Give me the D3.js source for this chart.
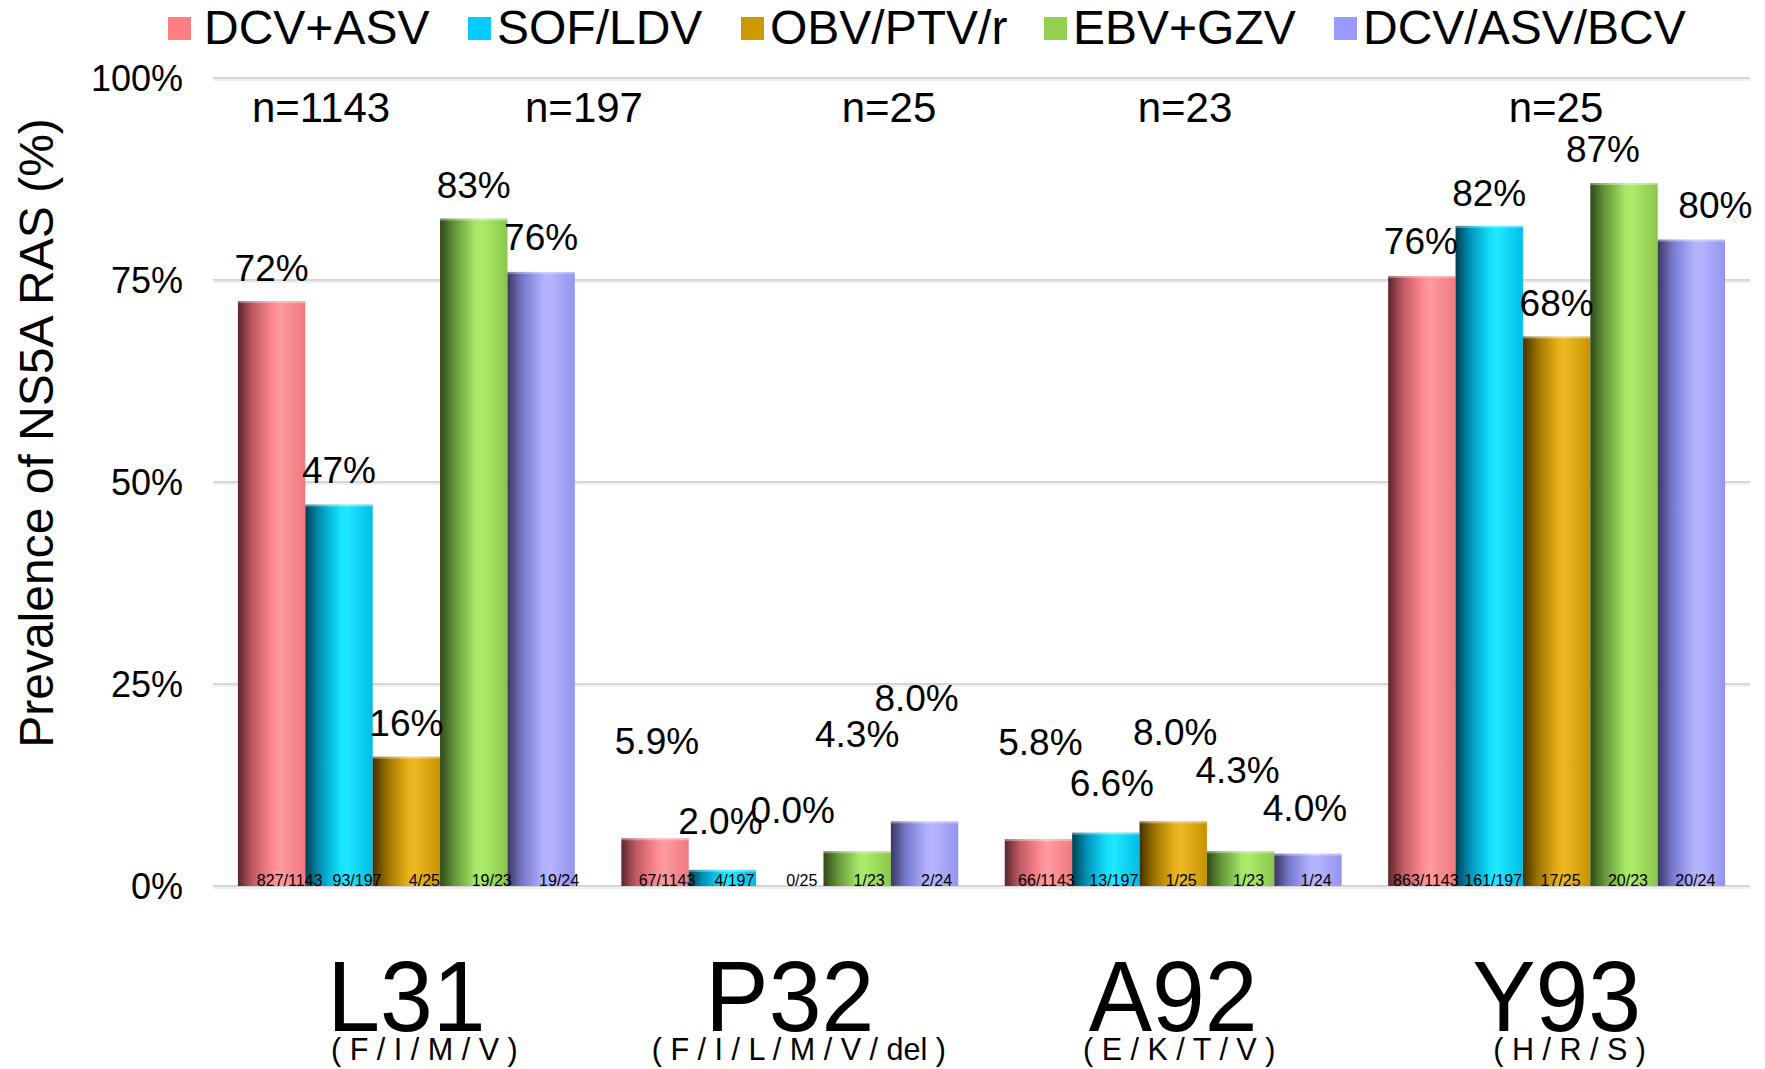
<!DOCTYPE html>
<html>
<head>
<meta charset="utf-8">
<script src="https://cdn.jsdelivr.net/npm/d3@7"></script>
<style>
  html, body { margin: 0; padding: 0; background: #ffffff; }
  svg { display: block; }
  text { font-family: "Liberation Sans", Arial, Helvetica, sans-serif; fill: #000; }
</style>
</head>
<body>
<svg id="chart" width="1765" height="1069"></svg>
<script>
// ---------------- DATA ----------------
const categories = ["L31", "P32", "A92", "Y93"];
const variants = ["( F / I / M / V )", "( F / I / L / M / V / del )", "( E / K / T / V )", "( H / R / S )"];
const seriesNames = ["DCV+ASV", "SOF/LDV", "OBV/PTV/r", "EBV+GZV", "DCV/ASV/BCV"];

const dcvAsv    = [72.4, 5.9, 5.8, 75.5];
const sofLdv    = [47.2, 2.0, 6.6, 81.7];
const obvPtvR   = [16.0, 0.0, 8.0, 68.0];
const ebvGzv    = [82.6, 4.3, 4.3, 87.0];
const dcvAsvBcv = [76.0, 8.0, 4.0, 80.0];

const dcvAsvLabels    = ["72%", "5.9%", "5.8%", "76%"];
const sofLdvLabels    = ["47%", "2.0%", "6.6%", "82%"];
const obvPtvRLabels   = ["16%", "0.0%", "8.0%", "68%"];
const ebvGzvLabels    = ["83%", "4.3%", "4.3%", "87%"];
const dcvAsvBcvLabels = ["76%", "8.0%", "4.0%", "80%"];

const dcvAsvFrac    = ["827/1143", "67/1143", "66/1143", "863/1143"];
const sofLdvFrac    = ["93/197", "4/197", "13/197", "161/197"];
const obvPtvRFrac   = ["4/25", "0/25", "1/25", "17/25"];
const ebvGzvFrac    = ["19/23", "1/23", "1/23", "20/23"];
const dcvAsvBcvFrac = ["19/24", "2/24", "1/24", "20/24"];

const sampleSizes = ["n=1143", "n=197", "n=25", "n=23", "n=25"];
const yTicks = [0, 25, 50, 75, 100];
const yTitle = "Prevalence of NS5A RAS (%)";

// ---------------- LAYOUT / STYLE ----------------
const W = 1765, H = 1069;
const yTop = 78, yBottom = 886;
const gridX0 = 213, gridX1 = 1750;
const colors = ["#FF7F80", "#00CCFF", "#CC9900", "#92D050", "#9999FF"];
const gradStops = [
  ["#5a262c", "#c05a64", "#ff8a90", "#ff9ca0", "#ef7a80"],
  ["#003f52", "#0094bb", "#14e2ff", "#20e8ff", "#00bde9"],
  ["#463000", "#9c7400", "#e8b018", "#ecb824", "#c69200"],
  ["#30491a", "#66983a", "#a6e766", "#aaec6a", "#8bc64b"],
  ["#38385e", "#7777cc", "#afafff", "#b6b6ff", "#9494ee"]
];
const legendSqX = [168, 468, 741, 1044, 1334];
const legendSq = 23;
const legendTextX = [204, 497, 770, 1073, 1363];
const nLabelX = [321, 584, 889, 1185, 1556];
const fracDx = [18, 12, 8, 4];
const variantDx = [18, 9, 6, 13];
const labelDx = [
  [0, 2, 2, -1],
  [0, -2, 6, 0],
  [0, 3, 2, 0],
  [0, 0, -3, -21],
  [0, -8, -3, 24]
];
const labelDy = [
  [-20, -84, -84, -22],
  [-22, -36, -37, -20],
  [-21, -63, -76, -21],
  [-21, -104, -68, -21],
  [-22, -110, -33, -22]
];

const values = [dcvAsv, sofLdv, obvPtvR, ebvGzv, dcvAsvBcv];
const valueLabels = [dcvAsvLabels, sofLdvLabels, obvPtvRLabels, ebvGzvLabels, dcvAsvBcvLabels];
const fractions = [dcvAsvFrac, sofLdvFrac, obvPtvRFrac, ebvGzvFrac, dcvAsvBcvFrac];

const bars = [];
seriesNames.forEach((s, si) => {
  categories.forEach((c, ci) => {
    bars.push({ series: s, si, cat: c, ci, value: values[si][ci],
                label: valueLabels[si][ci], frac: fractions[si][ci] });
  });
});

// ---------------- SCALES ----------------
const svg = d3.select("#chart");
svg.append("rect").attr("width", W).attr("height", H).attr("fill", "#fff");

const y = d3.scaleLinear().domain([0, 100]).range([yBottom, yTop]);
const x0 = d3.scaleBand().domain(categories).range([gridX0, gridX1])
  .paddingInner(0.1213).paddingOuter(0.065);
const x1 = d3.scaleBand().domain(seriesNames).range([0, x0.bandwidth()]).padding(0);

// gradients
const defs = svg.append("defs");
seriesNames.forEach((s, i) => {
  const g = defs.append("linearGradient").attr("id", "g" + i)
    .attr("x1", "0%").attr("x2", "100%").attr("y1", "0%").attr("y2", "0%");
  const offs = [0, 0.22, 0.52, 0.62, 1];
  offs.forEach((o, k) => g.append("stop").attr("offset", o).attr("stop-color", gradStops[i][k]));
});

// ---------------- GRID ----------------
const grid = svg.append("g");
grid.selectAll("line.shadow").data(yTicks).join("line")
  .attr("class", "shadow")
  .attr("x1", gridX0).attr("x2", gridX1)
  .attr("y1", d => y(d) + 2).attr("y2", d => y(d) + 2)
  .attr("stroke", "#efefef").attr("stroke-width", 2);
grid.selectAll("line.main").data(yTicks).join("line")
  .attr("class", "main")
  .attr("x1", gridX0).attr("x2", gridX1)
  .attr("y1", d => y(d)).attr("y2", d => y(d))
  .attr("stroke", "#d6d6d6").attr("stroke-width", 2);

// y axis labels via d3.axisLeft
const yAxis = d3.axisLeft(y).tickValues(yTicks).tickFormat(d => d + "%").tickSize(0).tickPadding(0);
const yg = svg.append("g").attr("transform", "translate(183,0)").call(yAxis);
yg.select(".domain").remove();
yg.selectAll("text").attr("font-size", 36).attr("dy", "0.35em")
  .attr("font-family", "'Liberation Sans', Arial, sans-serif").attr("fill", "#000");

// y title
svg.append("text")
  .attr("transform", "translate(53,433) rotate(-90)")
  .attr("text-anchor", "middle")
  .attr("font-size", 48)
  .text(yTitle);

// ---------------- BARS ----------------
const bg = svg.append("g");
bg.selectAll("rect.bar").data(bars).join("rect")
  .attr("class", "bar")
  .attr("x", d => x0(d.cat) + x1(d.series))
  .attr("y", d => y(d.value))
  .attr("width", x1.bandwidth())
  .attr("height", d => yBottom - y(d.value))
  .attr("fill", d => "url(#g" + d.si + ")");
bg.selectAll("rect.hl").data(bars.filter(d => d.value > 0)).join("rect")
  .attr("class", "hl")
  .attr("x", d => x0(d.cat) + x1(d.series))
  .attr("y", d => y(d.value))
  .attr("width", x1.bandwidth())
  .attr("height", 2)
  .attr("fill", "#ffffff").attr("opacity", 0.35);

// value labels
svg.append("g").selectAll("text").data(bars).join("text")
  .attr("x", d => x0(d.cat) + x1(d.series) + x1.bandwidth() / 2 + labelDx[d.si][d.ci])
  .attr("y", d => y(d.value) + labelDy[d.si][d.ci])
  .attr("text-anchor", "middle")
  .attr("font-size", 37)
  .text(d => d.label);

// fraction labels
svg.append("g").selectAll("text").data(bars).join("text")
  .attr("x", d => x0(d.cat) + x1(d.series) + x1.bandwidth() / 2 + fracDx[d.ci])
  .attr("y", yBottom - 0.5)
  .attr("text-anchor", "middle")
  .attr("font-size", 16)
  .text(d => d.frac);

// ---------------- CATEGORY LABELS ----------------
svg.append("g").selectAll("text").data(categories).join("text")
  .attr("transform", d => "translate(" + (x0(d) + x0.bandwidth() / 2) + ",1031) scale(0.94,1)")
  .attr("text-anchor", "middle")
  .attr("font-size", 101)
  .text(d => d);

svg.append("g").selectAll("text").data(variants).join("text")
  .attr("transform", (d, i) => "translate(" + (x0(categories[i]) + x0.bandwidth() / 2 + variantDx[i]) + ",1060) scale(0.955,1)")
  .attr("text-anchor", "middle")
  .attr("font-size", 32)
  .text(d => d);

// ---------------- N LABELS ----------------
svg.append("g").selectAll("text").data(sampleSizes).join("text")
  .attr("x", (d, i) => nLabelX[i])
  .attr("y", 122)
  .attr("text-anchor", "middle")
  .attr("font-size", 42)
  .text(d => d);

// ---------------- LEGEND ----------------
const lg = svg.append("g");
const items = lg.selectAll("g").data(seriesNames).join("g");
items.append("rect").attr("x", (d, i) => legendSqX[i]).attr("y", 17).attr("width", legendSq).attr("height", legendSq)
  .attr("fill", (d, i) => colors[i]);
items.append("text").attr("x", (d, i) => legendTextX[i]).attr("y", 44).attr("font-size", 48).text(d => d);
</script>
</body>
</html>
